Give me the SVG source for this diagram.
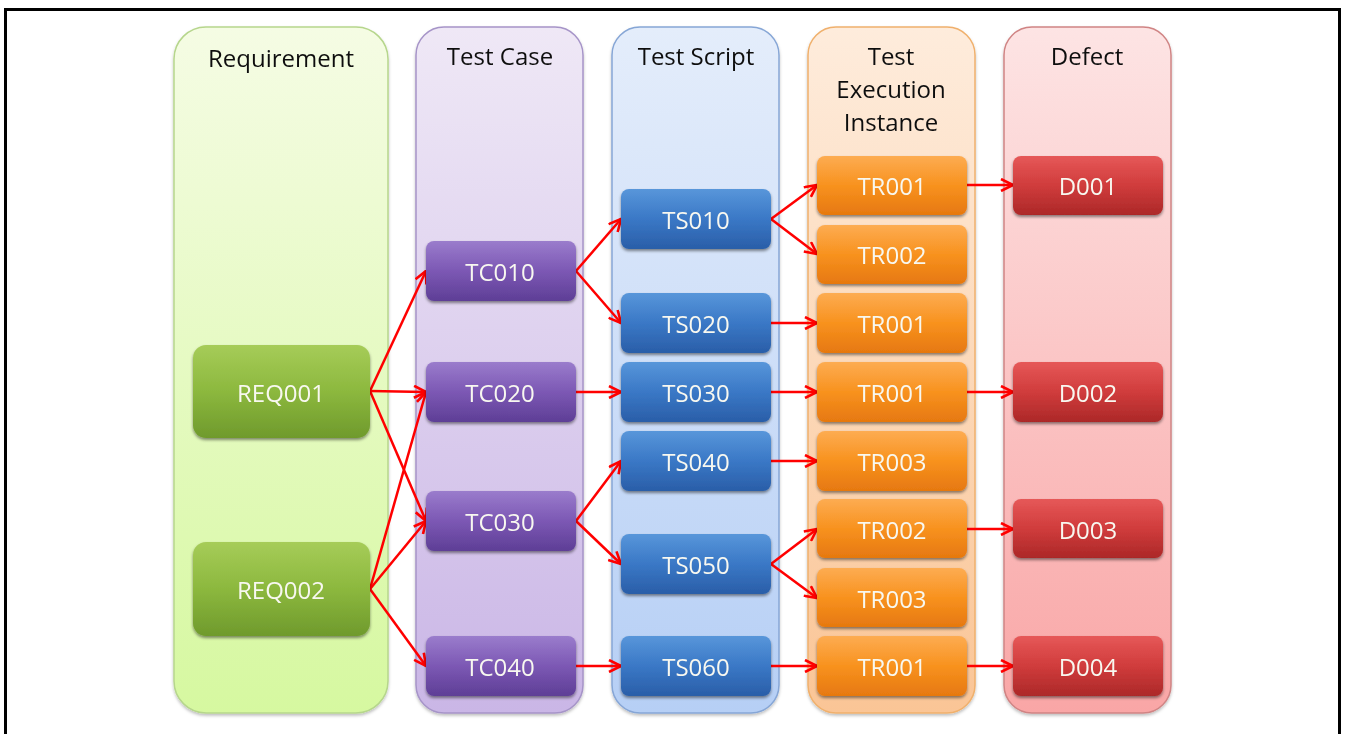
<svg xmlns="http://www.w3.org/2000/svg" width="1345" height="734" viewBox="0 0 1345 734">
<style>
.hdr{font-family:"Open Sans","Liberation Sans",sans-serif;font-size:24px;fill:#111;text-anchor:middle}
.lbl{font-family:"Open Sans","Liberation Sans",sans-serif;font-size:24px;fill:#f8f8f0;text-anchor:middle;dominant-baseline:central}
.col{stroke-width:1.5}
.n{filter:url(#sh)}
.c line{stroke:#ff0000;stroke-width:2.5;fill:none;marker-end:url(#ah)}
</style>
<defs>
<filter id="sh" x="-10%" y="-20%" width="120%" height="150%"><feDropShadow dx="0" dy="2" stdDeviation="1.8" flood-color="#000" flood-opacity="0.45"/></filter>
<filter id="csh" x="-5%" y="-5%" width="110%" height="110%"><feDropShadow dx="0" dy="2" stdDeviation="1.5" flood-color="#000" flood-opacity="0.25"/></filter>
<marker id="ah" viewBox="0 0 14 14" refX="13" refY="7" markerWidth="14" markerHeight="14" markerUnits="userSpaceOnUse" orient="auto"><path d="M1,1 L13,7 L1,13" fill="none" stroke="#ff0000" stroke-width="2.6" stroke-linejoin="miter"/></marker>
<linearGradient id="gc1" x1="0" y1="0" x2="0" y2="1"><stop offset="0" stop-color="#f5fce4"/><stop offset="1" stop-color="#d6f8a0"/></linearGradient>
<linearGradient id="gc2" x1="0" y1="0" x2="0" y2="1"><stop offset="0" stop-color="#efe8f6"/><stop offset="1" stop-color="#cab6e6"/></linearGradient>
<linearGradient id="gc3" x1="0" y1="0" x2="0" y2="1"><stop offset="0" stop-color="#e4edfb"/><stop offset="1" stop-color="#b6cff5"/></linearGradient>
<linearGradient id="gc4" x1="0" y1="0" x2="0" y2="1"><stop offset="0" stop-color="#feecdc"/><stop offset="1" stop-color="#fac596"/></linearGradient>
<linearGradient id="gc5" x1="0" y1="0" x2="0" y2="1"><stop offset="0" stop-color="#fde4e4"/><stop offset="1" stop-color="#f9a6a6"/></linearGradient>
<linearGradient id="gn1" x1="0" y1="0" x2="0" y2="1"><stop offset="0" stop-color="#a6cc58"/><stop offset="0.5" stop-color="#8cb83e"/><stop offset="1" stop-color="#6f9a2c"/></linearGradient>
<linearGradient id="gn2" x1="0" y1="0" x2="0" y2="1"><stop offset="0" stop-color="#9a7ccc"/><stop offset="0.5" stop-color="#7c58b4"/><stop offset="1" stop-color="#5e3e96"/></linearGradient>
<linearGradient id="gn3" x1="0" y1="0" x2="0" y2="1"><stop offset="0" stop-color="#5896da"/><stop offset="0.5" stop-color="#3a78c6"/><stop offset="1" stop-color="#2a5ea8"/></linearGradient>
<linearGradient id="gn4" x1="0" y1="0" x2="0" y2="1"><stop offset="0" stop-color="#fdac52"/><stop offset="0.5" stop-color="#f8921e"/><stop offset="1" stop-color="#e67810"/></linearGradient>
<linearGradient id="gn5" x1="0" y1="0" x2="0" y2="1"><stop offset="0" stop-color="#e65858"/><stop offset="0.5" stop-color="#d03c3c"/><stop offset="1" stop-color="#ac2828"/></linearGradient>
</defs>
<rect x="0" y="0" width="1345" height="734" fill="#fff"/>
<rect x="5.5" y="9.5" width="1334" height="740" fill="none" stroke="#000" stroke-width="3"/>

<g id="col-requirement" filter="url(#csh)"><rect class="col" x="174" y="27" width="214" height="686" rx="32" fill="url(#gc1)" stroke="#b6d68c"/><text class="hdr" x="281" y="67">Requirement</text></g>
<g id="col-testcase" filter="url(#csh)"><rect class="col" x="416" y="27" width="167" height="686" rx="28" fill="url(#gc2)" stroke="#a694c8"/><text class="hdr" x="500" y="65">Test Case</text></g>
<g id="col-testscript" filter="url(#csh)"><rect class="col" x="612" y="27" width="167" height="686" rx="28" fill="url(#gc3)" stroke="#86a6d6"/><text class="hdr" x="696" y="65">Test Script</text></g>
<g id="col-execution" filter="url(#csh)"><rect class="col" x="808" y="27" width="167" height="686" rx="28" fill="url(#gc4)" stroke="#f0b06c"/><text class="hdr" x="891" y="65">Test</text><text class="hdr" x="891" y="98">Execution</text><text class="hdr" x="891" y="131">Instance</text></g>
<g id="col-defect" filter="url(#csh)"><rect class="col" x="1004" y="27" width="167" height="686" rx="28" fill="url(#gc5)" stroke="#d08484"/><text class="hdr" x="1087" y="65">Defect</text></g>

<g id="connectors" class="c">
<line x1="370" y1="391" x2="426" y2="271"/>
<line x1="370" y1="391" x2="426" y2="392"/>
<line x1="370" y1="391" x2="426" y2="521"/>
<line x1="370" y1="589" x2="426" y2="392"/>
<line x1="370" y1="589" x2="426" y2="521"/>
<line x1="370" y1="589" x2="426" y2="666"/>
<line x1="576" y1="271" x2="621" y2="219"/>
<line x1="576" y1="271" x2="621" y2="323"/>
<line x1="576" y1="392" x2="621" y2="392"/>
<line x1="576" y1="521" x2="621" y2="461"/>
<line x1="576" y1="521" x2="621" y2="564"/>
<line x1="576" y1="666" x2="621" y2="666"/>
<line x1="771" y1="219" x2="817" y2="185"/>
<line x1="771" y1="219" x2="817" y2="254"/>
<line x1="771" y1="323" x2="817" y2="323"/>
<line x1="771" y1="392" x2="817" y2="392"/>
<line x1="771" y1="461" x2="817" y2="461"/>
<line x1="771" y1="564" x2="817" y2="529"/>
<line x1="771" y1="564" x2="817" y2="598"/>
<line x1="771" y1="666" x2="817" y2="666"/>
<line x1="967" y1="185" x2="1013" y2="185"/>
<line x1="967" y1="392" x2="1013" y2="392"/>
<line x1="967" y1="529" x2="1013" y2="529"/>
<line x1="967" y1="666" x2="1013" y2="666"/>
</g>

<g id="REQ001" class="n"><rect x="193" y="345" width="177" height="93" rx="13" fill="url(#gn1)"/><text class="lbl" x="281" y="392">REQ001</text></g>
<g id="REQ002" class="n"><rect x="193" y="542" width="177" height="94" rx="13" fill="url(#gn1)"/><text class="lbl" x="281" y="589">REQ002</text></g>

<g id="TC010" class="n"><rect x="426" y="241" width="150" height="60" rx="8" fill="url(#gn2)"/><text class="lbl" x="500" y="271">TC010</text></g>
<g id="TC020" class="n"><rect x="426" y="362" width="150" height="60" rx="8" fill="url(#gn2)"/><text class="lbl" x="500" y="392">TC020</text></g>
<g id="TC030" class="n"><rect x="426" y="491" width="150" height="60" rx="8" fill="url(#gn2)"/><text class="lbl" x="500" y="521">TC030</text></g>
<g id="TC040" class="n"><rect x="426" y="636" width="150" height="60" rx="8" fill="url(#gn2)"/><text class="lbl" x="500" y="666">TC040</text></g>

<g id="TS010" class="n"><rect x="621" y="189" width="150" height="60" rx="8" fill="url(#gn3)"/><text class="lbl" x="696" y="219">TS010</text></g>
<g id="TS020" class="n"><rect x="621" y="293" width="150" height="60" rx="8" fill="url(#gn3)"/><text class="lbl" x="696" y="323">TS020</text></g>
<g id="TS030" class="n"><rect x="621" y="362" width="150" height="60" rx="8" fill="url(#gn3)"/><text class="lbl" x="696" y="392">TS030</text></g>
<g id="TS040" class="n"><rect x="621" y="431" width="150" height="60" rx="8" fill="url(#gn3)"/><text class="lbl" x="696" y="461">TS040</text></g>
<g id="TS050" class="n"><rect x="621" y="534" width="150" height="60" rx="8" fill="url(#gn3)"/><text class="lbl" x="696" y="564">TS050</text></g>
<g id="TS060" class="n"><rect x="621" y="636" width="150" height="60" rx="8" fill="url(#gn3)"/><text class="lbl" x="696" y="666">TS060</text></g>

<g id="TR001-a" class="n"><rect x="817" y="156" width="150" height="59" rx="8" fill="url(#gn4)"/><text class="lbl" x="892" y="185">TR001</text></g>
<g id="TR002-a" class="n"><rect x="817" y="225" width="150" height="59" rx="8" fill="url(#gn4)"/><text class="lbl" x="892" y="254">TR002</text></g>
<g id="TR001-b" class="n"><rect x="817" y="293" width="150" height="60" rx="8" fill="url(#gn4)"/><text class="lbl" x="892" y="323">TR001</text></g>
<g id="TR001-c" class="n"><rect x="817" y="362" width="150" height="60" rx="8" fill="url(#gn4)"/><text class="lbl" x="892" y="392">TR001</text></g>
<g id="TR003-a" class="n"><rect x="817" y="431" width="150" height="60" rx="8" fill="url(#gn4)"/><text class="lbl" x="892" y="461">TR003</text></g>
<g id="TR002-b" class="n"><rect x="817" y="499" width="150" height="59" rx="8" fill="url(#gn4)"/><text class="lbl" x="892" y="529">TR002</text></g>
<g id="TR003-b" class="n"><rect x="817" y="568" width="150" height="59" rx="8" fill="url(#gn4)"/><text class="lbl" x="892" y="598">TR003</text></g>
<g id="TR001-d" class="n"><rect x="817" y="636" width="150" height="60" rx="8" fill="url(#gn4)"/><text class="lbl" x="892" y="666">TR001</text></g>

<g id="D001" class="n"><rect x="1013" y="156" width="150" height="59" rx="8" fill="url(#gn5)"/><text class="lbl" x="1088" y="185">D001</text></g>
<g id="D002" class="n"><rect x="1013" y="362" width="150" height="60" rx="8" fill="url(#gn5)"/><text class="lbl" x="1088" y="392">D002</text></g>
<g id="D003" class="n"><rect x="1013" y="499" width="150" height="59" rx="8" fill="url(#gn5)"/><text class="lbl" x="1088" y="529">D003</text></g>
<g id="D004" class="n"><rect x="1013" y="636" width="150" height="60" rx="8" fill="url(#gn5)"/><text class="lbl" x="1088" y="666">D004</text></g>
</svg>
